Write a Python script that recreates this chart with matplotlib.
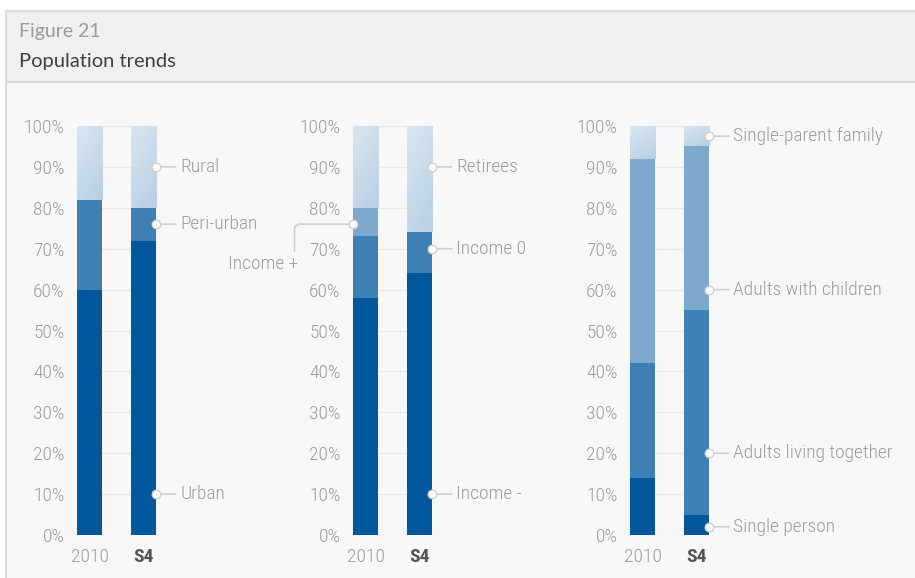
import numpy as np
import matplotlib
matplotlib.use("Agg")
import matplotlib.pyplot as plt
from matplotlib.colors import LinearSegmentedColormap
from matplotlib.patches import Rectangle

# data (percent, stacked from the bottom)
years = ["2010", "S4"]

settlement_series = ["Urban", "Peri-urban", "Rural"]
settlement_2010 = [60, 22, 18]
settlement_s4 = [72, 8, 20]
settlement_label_y = [10, 76, 90]

income_series = ["Income -", "Income 0", "Income +", "Retirees"]
income_2010 = [58, 15, 7, 20]
income_s4 = [64, 10, 0, 26]
income_label_y = [10, 70, 76, 90]

household_series = ["Single person", "Adults living together", "Adults with children", "Single-parent family"]
household_2010 = [14, 28, 50, 8]
household_s4 = [5, 50, 40, 5]
household_label_y = [2, 20, 60, 97.5]

DARK = "#00579b"
MID = "#3f80b4"
LIGHT = "#7fa9cc"
GRAD = LinearSegmentedColormap.from_list("grad", ["#d9e6f1", "#bad1e4"])
GRID = "#e9e9e9"
TXT = "#9c9c9c"
FS = 14

plt.rcParams["font.family"] = ["Roboto Condensed", "Liberation Sans Narrow", "Roboto", "DejaVu Sans"]
plt.rcParams["font.weight"] = "light"

W, H = 915, 578
fig = plt.figure(figsize=(W / 100, H / 100), dpi=100)
fig.patch.set_facecolor("white")


def fx(px):
    return px / W


def fy(py):
    return 1 - py / H


# frame: header band + body
fig.add_artist(Rectangle((fx(6), fy(578)), fx(909), fy(82) - fy(578), transform=fig.transFigure,
                         facecolor="#f8f8f8", edgecolor="none", zorder=0))
fig.add_artist(Rectangle((fx(6), fy(82)), fx(909), fy(11) - fy(82), transform=fig.transFigure,
                         facecolor="#f0f0f0", edgecolor="none", zorder=0))
fig.add_artist(plt.Line2D([fx(6), 1], [fy(11), fy(11)], transform=fig.transFigure, color="#dcdcdc", lw=1.5))
fig.add_artist(plt.Line2D([fx(6), 1], [fy(82), fy(82)], transform=fig.transFigure, color="#d8d8d8", lw=1.5))
fig.add_artist(plt.Line2D([fx(6), fx(6)], [fy(11), 0], transform=fig.transFigure, color="#dcdcdc", lw=1.5))

fig.text(fx(19), fy(32), "Figure 21", family=["Lato", "DejaVu Sans"], fontsize=14,
         color="#9a9a9a", va="center", ha="left", weight="normal")
fig.text(fx(19), fy(62), "Population trends", family=["Lato", "DejaVu Sans"], fontsize=14.5,
         color="#404040", va="center", ha="left", weight="normal")

bw = 0.463
panels = [
    (77, settlement_2010, settlement_s4, settlement_series, settlement_label_y, [DARK, MID, None]),
    (353, income_2010, income_s4, income_series, income_label_y, [DARK, MID, LIGHT, None]),
    (630, household_2010, household_s4, household_series, household_label_y, [DARK, MID, LIGHT, None]),
]

for left_px, v2010, vs4, names, label_y, colors in panels:
    ax = fig.add_axes([fx(left_px), fy(535), fx(79), fy(126) - fy(535)])
    ax.set_facecolor("none")
    for s in ax.spines.values():
        s.set_visible(False)
    ax.set_yticks(np.arange(0, 101, 10))
    ax.set_yticklabels([f"{t}%" for t in range(0, 101, 10)])
    ax.yaxis.grid(True, color=GRID, lw=1, zorder=0)
    ax.set_axisbelow(True)
    ax.tick_params(axis="y", length=0, pad=9, labelsize=FS, labelcolor=TXT)
    ax.tick_params(axis="x", length=0, pad=9, labelsize=FS, labelcolor=TXT)
    ax.set_xticks([0, 1])
    ax.set_xticklabels(years)
    lbls = ax.get_xticklabels()
    lbls[1].set_fontweight("bold")
    lbls[1].set_color("#555555")

    for xi, vals in enumerate([v2010, vs4]):
        bottom = 0
        for val, col in zip(vals, colors):
            if val > 0:
                if col is None:
                    bar = ax.bar(xi, val, bw, bottom=bottom, color="#c9dbea", lw=0, zorder=2)[0]
                    gx, gy = np.meshgrid(np.linspace(0, 1, 20), np.linspace(0, 1, 60))
                    grad = np.clip(0.75 * gy + 0.35 * gx, 0, 1)
                    im = ax.imshow(grad, cmap=GRAD, origin="upper", aspect="auto", zorder=3,
                                   extent=(xi - bw / 2, xi + bw / 2, bottom, bottom + val))
                    im.set_clip_path(bar)
                else:
                    ax.bar(xi, val, bw, bottom=bottom, color=col, lw=0, zorder=2)
            bottom += val

    ax.set_xlim(-bw / 2, 1 + bw / 2)
    ax.set_ylim(0, 100)

    # labels with leader lines
    for name, ly, v_s4 in zip(names, label_y, vs4):
        if v_s4 > 0:
            xe = 1 + bw / 2
            ax.annotate(name, xy=(xe, ly), xytext=(24, 0), textcoords="offset pixels",
                        ha="left", va="center", fontsize=FS, color=TXT,
                        arrowprops=dict(arrowstyle="-", color="#cfcfcf", lw=1.2,
                                        shrinkA=1, shrinkB=0, relpos=(0, 0.5)),
                        annotation_clip=False)
        else:
            xe = -bw / 2
            ax.annotate(name, xy=(xe, ly), xytext=(-55, -40), textcoords="offset pixels",
                        ha="right", va="center", fontsize=FS, color=TXT,
                        arrowprops=dict(arrowstyle="-", color="#cfcfcf", lw=1.2,
                                        shrinkA=1, shrinkB=0, relpos=(0.95, 1.0),
                                        connectionstyle="angle,angleA=90,angleB=0,rad=6"),
                        annotation_clip=False)
        ax.scatter([xe], [ly], s=38, facecolor="white", edgecolor="#d0d0d0", lw=1,
                   zorder=6, clip_on=False)

fig.savefig("out.png", dpi=100)
